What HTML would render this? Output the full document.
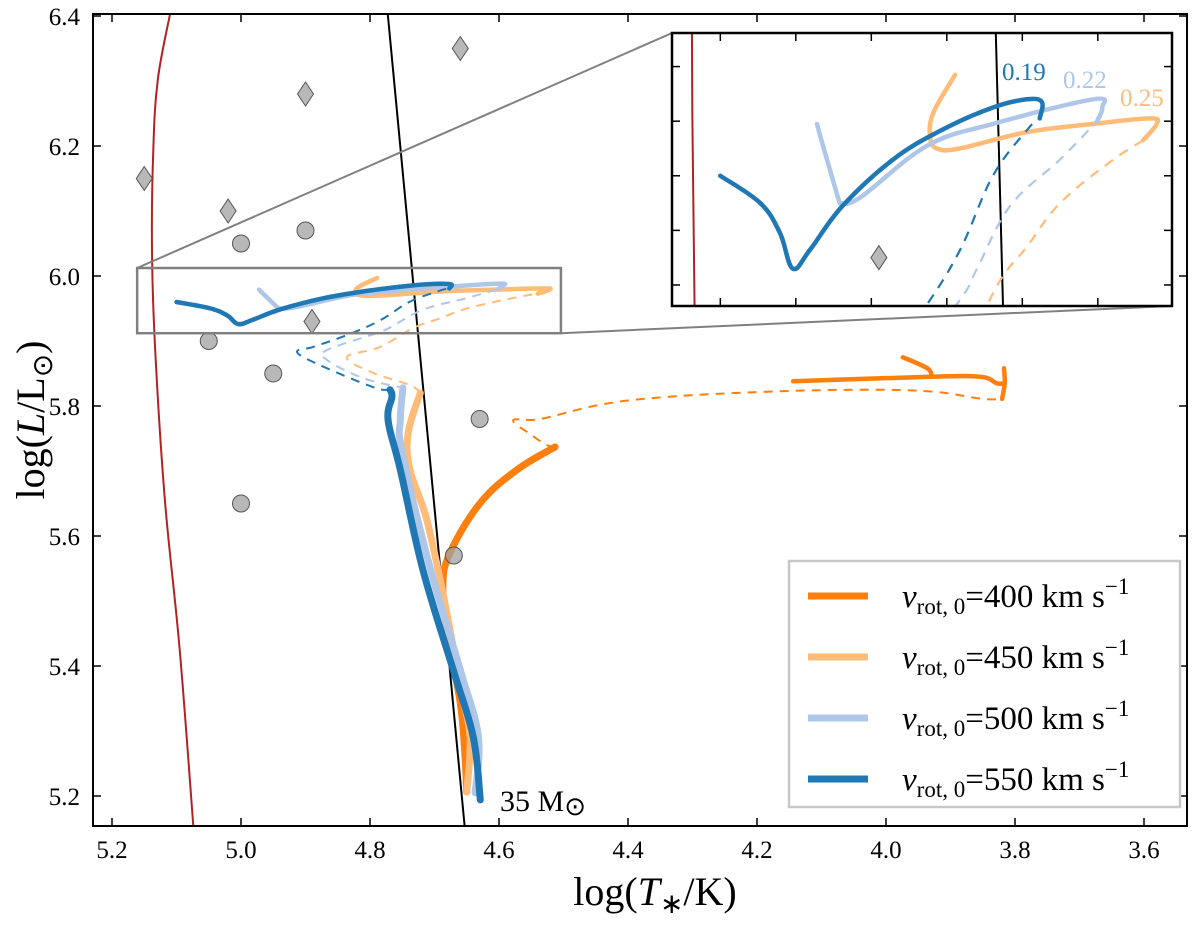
<!DOCTYPE html>
<html><head><meta charset="utf-8"><style>
html,body{margin:0;padding:0;background:#fff;overflow:hidden;width:1200px;height:927px;}
svg{display:block;}
text{font-family:"Liberation Serif",serif;}
</style></head><body>
<svg id="chart" width="1200" height="927" viewBox="0 0 1200 927" xmlns="http://www.w3.org/2000/svg" font-family="Liberation Serif, serif">
<defs>
<clipPath id="mainClip"><rect x="93" y="14" width="1094" height="812"/></clipPath>
<clipPath id="insetClip"><rect x="672" y="33" width="500" height="273"/></clipPath>
</defs>
<rect x="0" y="0" width="1200" height="927" fill="#fff"/>
<g id="mainMarks" clip-path="url(#mainClip)"></g>
<g id="insetBg"><rect x="672" y="33" width="500" height="273" fill="#fff"/></g>
<g id="insetMarks" clip-path="url(#insetClip)"></g>
<g id="axes"></g>
<text x="500" y="811" font-size="30">35 M<tspan font-size="26" dy="4">⊙</tspan></text>
<text x="655" y="905" font-size="40" text-anchor="middle">log(<tspan font-style="italic">T</tspan><tspan font-size="28" dy="8">∗</tspan><tspan dy="-8">/K)</tspan></text>
<text transform="translate(44,420) rotate(-90)" font-size="40" text-anchor="middle">log(<tspan font-style="italic">L</tspan>/L<tspan font-size="28" dy="8">⊙</tspan><tspan dy="-8">)</tspan></text>
<g>
<rect x="789" y="561" width="391" height="246" fill="#fff" stroke="#c8c8c8" stroke-width="2.5"/>
<line x1="808" y1="596" x2="868" y2="596" stroke="#ff7f0e" stroke-width="7"/>
<line x1="808" y1="657" x2="868" y2="657" stroke="#ffbb78" stroke-width="7"/>
<line x1="808" y1="718" x2="868" y2="718" stroke="#aec7e8" stroke-width="7"/>
<line x1="808" y1="779" x2="868" y2="779" stroke="#1f77b4" stroke-width="7"/>
<text x="902" y="607" font-size="33"><tspan font-style="italic">v</tspan><tspan font-size="23" dy="7">rot, 0</tspan><tspan dy="-7">=400 km s</tspan><tspan font-size="23" dy="-13">−1</tspan></text>
<text x="902" y="668" font-size="33"><tspan font-style="italic">v</tspan><tspan font-size="23" dy="7">rot, 0</tspan><tspan dy="-7">=450 km s</tspan><tspan font-size="23" dy="-13">−1</tspan></text>
<text x="902" y="729" font-size="33"><tspan font-style="italic">v</tspan><tspan font-size="23" dy="7">rot, 0</tspan><tspan dy="-7">=500 km s</tspan><tspan font-size="23" dy="-13">−1</tspan></text>
<text x="902" y="790" font-size="33"><tspan font-style="italic">v</tspan><tspan font-size="23" dy="7">rot, 0</tspan><tspan dy="-7">=550 km s</tspan><tspan font-size="23" dy="-13">−1</tspan></text>
</g>
</svg>
<script>
// ---- data ----
const xTicks = [5.2, 5.0, 4.8, 4.6, 4.4, 4.2, 4.0, 3.8, 3.6];
const yTicks = [5.2, 5.4, 5.6, 5.8, 6.0, 6.2, 6.4];
const insetXTicks = [5.1, 5.0, 4.9, 4.8, 4.7, 4.6];
const insetYTicks = [5.92, 5.94, 5.96, 5.98, 6.00];
const speeds = ["400", "450", "500", "550"];
const colors = ["#ff7f0e", "#ffbb78", "#aec7e8", "#1f77b4"];
const zoomLabels = ["0.25", "0.22", "0.19"];

const t400Solid = [[4.650,5.206],[4.653,5.266],[4.660,5.343],[4.679,5.445],[4.687,5.522],[4.676,5.574],[4.629,5.651],[4.572,5.702],[4.513,5.737]];
const t400Dash = [[4.513,5.737],[4.526,5.740],[4.549,5.755],[4.578,5.778],[4.536,5.780],[4.443,5.802],[4.340,5.814],[4.184,5.822],[4.029,5.825],[3.927,5.822],[3.850,5.811],[3.820,5.811]];
const t400Late1 = [[3.820,5.811],[3.816,5.835],[3.817,5.858]];
const t400Late2 = [[3.816,5.835],[3.828,5.835],[3.854,5.845],[3.932,5.845],[4.144,5.838]];
const t400Hook = [[3.929,5.845],[3.936,5.858],[3.974,5.875]];

const t450Solid = [[4.650,5.206],[4.645,5.291],[4.660,5.368],[4.684,5.497],[4.712,5.625],[4.738,5.702],[4.741,5.758],[4.722,5.820]];
const t450Dash = [[4.722,5.820],[4.738,5.832],[4.795,5.851],[4.836,5.875],[4.784,5.891],[4.733,5.920],[4.694,5.934],[4.650,5.950],[4.584,5.965],[4.540,5.973]];
const t450Top = [[4.540,5.973],[4.522,5.979],[4.531,5.981],[4.606,5.979],[4.694,5.976],[4.783,5.970],[4.813,5.970],[4.822,5.974],[4.818,5.983],[4.789,5.997]];

const t500Solid = [[4.637,5.205],[4.632,5.291],[4.660,5.394],[4.706,5.548],[4.750,5.728],[4.753,5.778],[4.749,5.828]];
const t500Dash = [[4.749,5.828],[4.753,5.829],[4.811,5.843],[4.867,5.871],[4.867,5.886],[4.784,5.914],[4.760,5.926],[4.716,5.949],[4.650,5.966],[4.601,5.980]];
const t500Top = [[4.601,5.980],[4.594,5.985],[4.606,5.988],[4.739,5.979],[4.826,5.971],[4.915,5.952],[4.942,5.950]];
const t500Spur = [[4.942,5.950],[4.964,5.971],[4.972,5.979]];

const t550Solid = [[4.629,5.194],[4.640,5.291],[4.671,5.394],[4.718,5.548],[4.753,5.702],[4.772,5.778],[4.766,5.814],[4.769,5.825]];
const t550Dash = [[4.769,5.825],[4.795,5.829],[4.878,5.863],[4.913,5.883],[4.888,5.891],[4.836,5.909],[4.784,5.932],[4.739,5.960],[4.693,5.977],[4.677,5.981]];
const t550Top = [[4.677,5.981],[4.674,5.987],[4.694,5.988],[4.739,5.985],[4.805,5.977],[4.871,5.966],[4.938,5.949],[4.981,5.933],[5.004,5.926],[5.021,5.939],[5.047,5.950],[5.100,5.960]];

const redLine = [[5.110,6.403],[5.129,6.302],[5.136,6.194],[5.138,6.040],[5.133,5.886],[5.118,5.655],[5.095,5.425],[5.074,5.154],[5.070,5.10]];
const blackLine = [[4.775,6.43],[4.650,5.12]];
const circles = [[5.0,6.05],[4.9,6.07],[5.05,5.90],[4.95,5.85],[5.0,5.65],[4.63,5.78],[4.67,5.57]];
const diamonds = [[5.15,6.15],[5.02,6.10],[4.90,6.28],[4.66,6.35],[4.89,5.93]];
const zoomBox = [5.161, 4.504, 5.912, 6.0123];

// ---- scales ----
const X = v => 112 + (5.2 - v) * 645;
const Y = v => 276 - (v - 6.0) * 650;
const IX = v => 672 + (5.164 - v) * 755;
const IY = v => 33 + (6.0123 - v) * 2730;
const NS = "http://www.w3.org/2000/svg";
function mk(tag, attrs, parent) {
  const e = document.createElementNS(NS, tag);
  for (const k in attrs) e.setAttribute(k, attrs[k]);
  parent.appendChild(e);
  return e;
}
const mainG = document.getElementById('mainMarks');
const insetG = document.getElementById('insetMarks');
const axesG = document.getElementById('axes');

function smoothPath(P) {
  if (P.length < 3) return P.map((p, i) => (i ? 'L' : 'M') + p[0].toFixed(1) + ',' + p[1].toFixed(1)).join(' ');
  let d = 'M' + P[0][0].toFixed(1) + ',' + P[0][1].toFixed(1);
  for (let i = 0; i < P.length - 1; i++) {
    const p0 = P[i - 1] || P[i], p1 = P[i], p2 = P[i + 1], p3 = P[i + 2] || p2;
    const t = 0.18;
    const c1 = [p1[0] + (p2[0] - p0[0]) * t, p1[1] + (p2[1] - p0[1]) * t];
    const c2 = [p2[0] - (p3[0] - p1[0]) * t, p2[1] - (p3[1] - p1[1]) * t];
    d += ` C${c1[0].toFixed(1)},${c1[1].toFixed(1)} ${c2[0].toFixed(1)},${c2[1].toFixed(1)} ${p2[0].toFixed(1)},${p2[1].toFixed(1)}`;
  }
  return d;
}
function poly(pts, sx, sy, color, w, dash, parent, name) {
  const P = pts.map(p => [sx(p[0]), sy(p[1])]);
  const el = mk('path', {d: smoothPath(P), fill: 'none', stroke: color, 'stroke-width': w, 'stroke-linecap': dash ? 'butt' : 'round', 'stroke-linejoin': 'round'}, parent);
  if (dash) el.setAttribute('stroke-dasharray', dash);
  
  
  return el;
}

function drawAll(parent, sx, sy, thick, top, thin, dashPat, markerScale) {
  poly(redLine, sx, sy, '#b22222', 2, null, parent, 'red-boundary-line');
  poly(blackLine, sx, sy, '#000', 2, null, parent, 'zams-line');
  const tracks = [
    [t400Solid, t400Dash, [t400Late1, t400Late2, t400Hook], 0],
    [t450Solid, t450Dash, [t450Top], 1],
    [t500Solid, t500Dash, [t500Top, t500Spur], 2],
    [t550Solid, t550Dash, [t550Top], 3]
  ];
  tracks.forEach(t => {
    const c = colors[t[3]];
    const nm = 'track-' + speeds[t[3]];
    poly(t[0], sx, sy, c, thick, null, parent, nm + '-main-sequence');
    poly(t[1], sx, sy, c, thin, dashPat, parent, nm + '-dashed');
    t[2].forEach(s => poly(s, sx, sy, c, top, null, parent, nm + '-late'));
  });
  circles.forEach(p => {
    const c = mk('circle', {cx: sx(p[0]), cy: sy(p[1]), r: 8.5 * markerScale, fill: 'rgba(160,160,160,0.75)', stroke: '#555', 'stroke-width': 1}, parent);
    
    
  });
  diamonds.forEach(p => {
    const x = sx(p[0]), y = sy(p[1]), w = 8 * markerScale, h = 12 * markerScale;
    const d = mk('path', {d: `M${x},${y-h} L${x+w},${y} L${x},${y+h} L${x-w},${y} Z`, fill: '#b8b8b8', stroke: '#555', 'stroke-width': 1}, parent);
    
    
  });
}
drawAll(mainG, X, Y, 7, 4.5, 2, '9,7', 1);
drawAll(insetG, IX, IY, 4.5, 4.5, 2.2, '10,8', 1);

const bx1 = X(zoomBox[0]), bx2 = X(zoomBox[1]), by1 = Y(zoomBox[3]), by2 = Y(zoomBox[2]);
let e;
e = mk('line', {x1: bx1, y1: by1, x2: 672, y2: 33, stroke: '#808080', 'stroke-width': 2}, axesG);


e = mk('line', {x1: bx2, y1: by2, x2: 1172, y2: 306, stroke: '#808080', 'stroke-width': 2}, axesG);


e = mk('rect', {x: bx1, y: by1, width: bx2 - bx1, height: by2 - by1, fill: 'none', stroke: '#808080', 'stroke-width': 2.5}, axesG);



e = mk('rect', {x: 93, y: 14, width: 1094, height: 812, fill: 'none', stroke: '#000', 'stroke-width': 2}, axesG);


xTicks.forEach(v => {
  const x = X(v);
  mk('line', {x1: x, y1: 826, x2: x, y2: 818, stroke: '#000', 'stroke-width': 1.5}, axesG);
  mk('line', {x1: x, y1: 14, x2: x, y2: 22, stroke: '#000', 'stroke-width': 1.5}, axesG);
  const t = mk('text', {x: x, y: 858, 'font-size': 25, 'text-anchor': 'middle'}, axesG);
  t.textContent = v.toFixed(1);
  
  
});
yTicks.forEach(v => {
  const y = Y(v);
  mk('line', {x1: 93, y1: y, x2: 101, y2: y, stroke: '#000', 'stroke-width': 1.5}, axesG);
  mk('line', {x1: 1187, y1: y, x2: 1179, y2: y, stroke: '#000', 'stroke-width': 1.5}, axesG);
  const t = mk('text', {x: 80, y: y + 9, 'font-size': 25, 'text-anchor': 'end'}, axesG);
  t.textContent = v.toFixed(1);
  
  
});
e = mk('rect', {x: 672, y: 33, width: 500, height: 273, fill: 'none', stroke: '#000', 'stroke-width': 2.5}, axesG);


insetXTicks.forEach(v => {
  const x = IX(v);
  mk('line', {x1: x, y1: 306, x2: x, y2: 298, stroke: '#000', 'stroke-width': 1.5}, axesG);
  mk('line', {x1: x, y1: 33, x2: x, y2: 41, stroke: '#000', 'stroke-width': 1.5}, axesG);
});
insetYTicks.forEach(v => {
  const y = IY(v);
  mk('line', {x1: 672, y1: y, x2: 680, y2: y, stroke: '#000', 'stroke-width': 1.5}, axesG);
  mk('line', {x1: 1172, y1: y, x2: 1164, y2: y, stroke: '#000', 'stroke-width': 1.5}, axesG);
});
const labelPos = [[1120, 106], [1063, 88], [1002, 80]];
const labelCols = [colors[1], colors[2], colors[3]];
zoomLabels.forEach((s, i) => {
  const t = mk('text', {x: labelPos[i][0], y: labelPos[i][1], 'font-size': 25, fill: labelCols[i]}, axesG);
  t.textContent = s;
  
  
});
</script>
</body></html>
